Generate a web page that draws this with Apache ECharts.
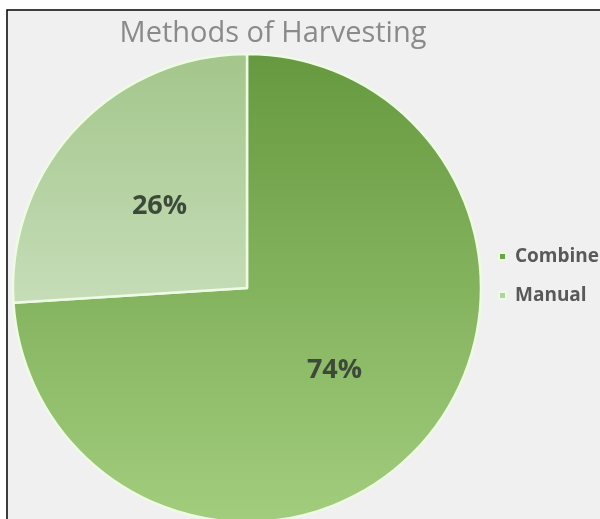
<!DOCTYPE html>
<html lang="en">
<head>
    <meta charset="UTF-8">
    <title>Methods of Harvesting</title>
    <script src="https://cdn.jsdelivr.net/npm/echarts@6/dist/echarts.min.js"></script>
    <style>
        html, body { margin: 0; padding: 0; background: #ffffff; }
        #chart { width: 600px; height: 519px; }
    </style>
</head>
<body>
    <div id="chart"></div>
    <script>
        const categories = ['Combine', 'Manual'];
        const shares = [74, 26];

        const fills = [
            new echarts.graphic.LinearGradient(0, 0, 0, 1, [
                { offset: 0, color: '#66993f' },
                { offset: 1, color: '#a2cd7d' }
            ]),
            new echarts.graphic.LinearGradient(0, 0, 0, 1, [
                { offset: 0, color: '#a3c68b' },
                { offset: 1, color: '#c6ddb8' }
            ])
        ];
        const legendColors = ['#6fa34a', '#b3d39c'];

        const chart = echarts.init(document.getElementById('chart'));
        chart.setOption({
            backgroundColor: '#ffffff',
            graphic: [{
                type: 'rect',
                z: -10,
                shape: { x: 7, y: 10, width: 620, height: 540 },
                style: { fill: '#f0f0f0', stroke: '#000000', lineWidth: 1.5 }
            }],
            title: {
                text: 'Methods of Harvesting',
                left: 268,
                textAlign: 'center',
                top: 14,
                textStyle: {
                    fontFamily: 'Open Sans',
                    fontWeight: 'normal',
                    fontSize: 29,
                    color: '#8a8a8a'
                }
            },
            legend: {
                orient: 'vertical',
                left: 493,
                top: 242,
                icon: 'rect',
                itemWidth: 7,
                itemHeight: 7,
                itemGap: 20,
                data: categories.map((c, i) => ({ name: c, itemStyle: { color: legendColors[i] } })),
                textStyle: {
                    fontFamily: 'Open Sans',
                    fontWeight: 'bold',
                    fontSize: 19,
                    padding: [0, 0, 0, 4],
                    color: '#595959'
                }
            },
            series: [{
                type: 'pie',
                center: [247, 288],
                radius: [0, 234],
                startAngle: 90,
                clockwise: true,
                silent: true,
                data: categories.map((c, i) => ({
                    name: c,
                    value: shares[i],
                    itemStyle: { color: fills[i] }
                })),
                itemStyle: { borderColor: '#eefbe4', borderWidth: 2.5 },
                label: {
                    position: 'inside',
                    formatter: p => p.value + '%',
                    fontFamily: 'Open Sans',
                    fontWeight: 'bold',
                    fontSize: 27,
                    color: '#3d4a3a'
                },
                labelLine: { show: false }
            }]
        });
    </script>
</body>
</html>
